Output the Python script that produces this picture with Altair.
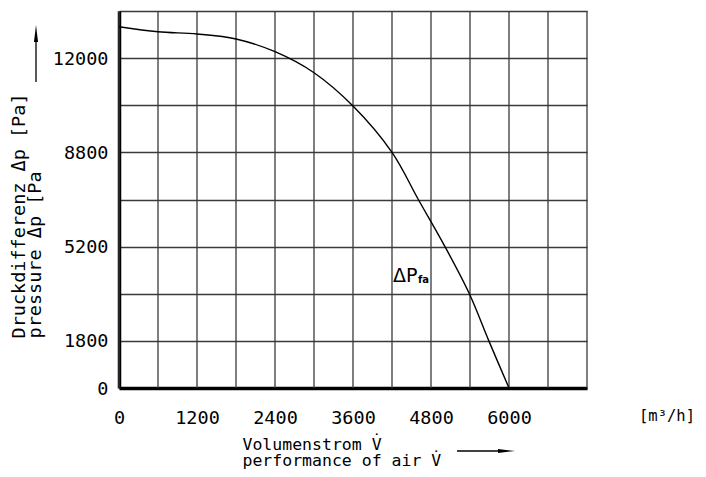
import altair as alt
import pandas as pd

# Curve data
flow = [0, 600, 1200, 1800, 2400, 3000, 3600, 4200, 4605, 5015, 5390, 5690, 6000]
pressure = [13067, 12897, 12819, 12650, 12218, 11505, 10374, 8800, 7000, 5200, 3500, 1800, 0]

# Axis ticks
x_ticks = [0, 600, 1200, 1800, 2400, 3000, 3600, 4200, 4800, 5400, 6000, 6600, 7200]
x_labels = [0, 1200, 2400, 3600, 4800, 6000]
y_ticks = [0, 1800, 3500, 5200, 7000, 8800, 10400, 12000, 13600]
y_labels = [0, 1800, 5200, 8800, 12000]

W, H = 468, 377
FONT = "DejaVu Sans Mono"
GRID = "#3a3a3a"
row = H / (len(y_ticks) - 1)
y_range = [H - i * row for i in range(len(y_ticks))]

df = pd.DataFrame({"flow": flow, "pressure": pressure})

xscale = alt.Scale(domain=[0, 7200], nice=False, zero=False)
yscale = alt.Scale(domain=y_ticks, range=y_range, nice=False, zero=False)

x_label_expr = "indexof([" + ",".join(str(v) for v in x_labels) + "], datum.value) >= 0 ? datum.label : ''"
y_label_expr = "indexof([" + ",".join(str(v) for v in y_labels) + "], datum.value) >= 0 ? datum.label : ''"

# vertical grid lines
vgrid = alt.Chart(pd.DataFrame({"flow": x_ticks})).mark_rule(color=GRID, strokeWidth=1.3).encode(
    x=alt.X("flow:Q", scale=xscale), y=alt.value(0), y2=alt.value(H))

curve = alt.Chart(df).mark_line(color="black", strokeWidth=1.4, interpolate="catmull-rom").encode(
    x=alt.X("flow:Q", scale=xscale,
            axis=alt.Axis(values=x_ticks, labelExpr=x_label_expr, format="d", ticks=False,
                          labelPadding=20, labelFontSize=18.5, labelFont=FONT, labelColor="black",
                          grid=False,
                          domainColor="black", domainWidth=3.5,
                          title=["Volumenstrom V̇", "performance of air V̇"],
                          titleFont=FONT, titleFontSize=16.5, titleFontWeight="normal",
                          titleAlign="left", titleAnchor="start", titleBaseline="alphabetic",
                          titleX=123, titleY=61, titleLineHeight=16.5, titleColor="black",
                          labelFlush=False, labelOverlap=False)),
    y=alt.Y("pressure:Q", scale=yscale,
            axis=alt.Axis(values=y_ticks, labelExpr=y_label_expr, format="d", ticks=False,
                          labelPadding=11, labelFontSize=18.5, labelFont=FONT, labelColor="black",
                          grid=True, gridColor=GRID, gridWidth=1.3,
                          domainColor="black", domainWidth=3.5,
                          title=["Druckdifferenz Δp [Pa]", "pressure Δp [Pa"],
                          titleFont=FONT, titleFontSize=18.5, titleFontWeight="normal",
                          titleAngle=270, titleAlign="left", titleBaseline="alphabetic",
                          titleX=-95, titleY=327, titleLineHeight=16.5, titleColor="black",
                          labelFlush=False, labelOverlap=False)),
)

# Curve annotation
ann = pd.DataFrame({"flow": [4215], "pressure": [3924], "t": ["ΔP"]})
ann_sub = pd.DataFrame({"flow": [4600], "pressure": [3880], "t": ["fa"]})
label_main = alt.Chart(ann).mark_text(font="DejaVu Sans", fontSize=19, align="left", baseline="alphabetic", color="black").encode(
    x=alt.X("flow:Q", scale=xscale), y=alt.Y("pressure:Q", scale=yscale), text="t:N")
label_sub = alt.Chart(ann_sub).mark_text(font="DejaVu Sans", fontSize=10, fontWeight="bold", align="left", baseline="alphabetic", color="black").encode(
    x=alt.X("flow:Q", scale=xscale), y=alt.Y("pressure:Q", scale=yscale), text="t:N")

# Unit text
unit = alt.Chart(pd.DataFrame({"t": ["[m³/h]"]})).mark_text(font=FONT, fontSize=15.5, align="left", baseline="alphabetic", color="black").encode(
    x=alt.value(520), y=alt.value(421 - 11), text="t:N")

# Arrows (decoration)
y_arrow_line = alt.Chart(pd.DataFrame({"a": [0]})).mark_rule(color="black", strokeWidth=1.3).encode(
    x=alt.value(-83), y=alt.value(25), y2=alt.value(71))
y_arrow_head = alt.Chart(pd.DataFrame({"a": [0]})).mark_point(
    shape="M0,-1L0.24,1L-0.24,1Z", filled=True, color="black", opacity=1, size=289).encode(
    x=alt.value(-83), y=alt.value(22.5))
x_arrow_line = alt.Chart(pd.DataFrame({"a": [0]})).mark_rule(color="black", strokeWidth=1.3).encode(
    x=alt.value(338), x2=alt.value(385), y=alt.value(440))
x_arrow_head = alt.Chart(pd.DataFrame({"a": [0]})).mark_point(
    shape="M1,0L-1,-0.24L-1,0.24Z", filled=True, color="black", opacity=1, size=289).encode(
    x=alt.value(387.5), y=alt.value(440))

chart = alt.layer(vgrid, curve, label_main, label_sub, unit, y_arrow_line, y_arrow_head, x_arrow_line, x_arrow_head).properties(
    width=W, height=H,
    autosize=alt.AutoSizeParams(type="none"),
    padding={"left": 111, "top": 3, "right": 111, "bottom": 81},
    background="white",
).configure_view(strokeWidth=0)

chart.save("out.html", embed_options={"renderer": "svg", "actions": False})
